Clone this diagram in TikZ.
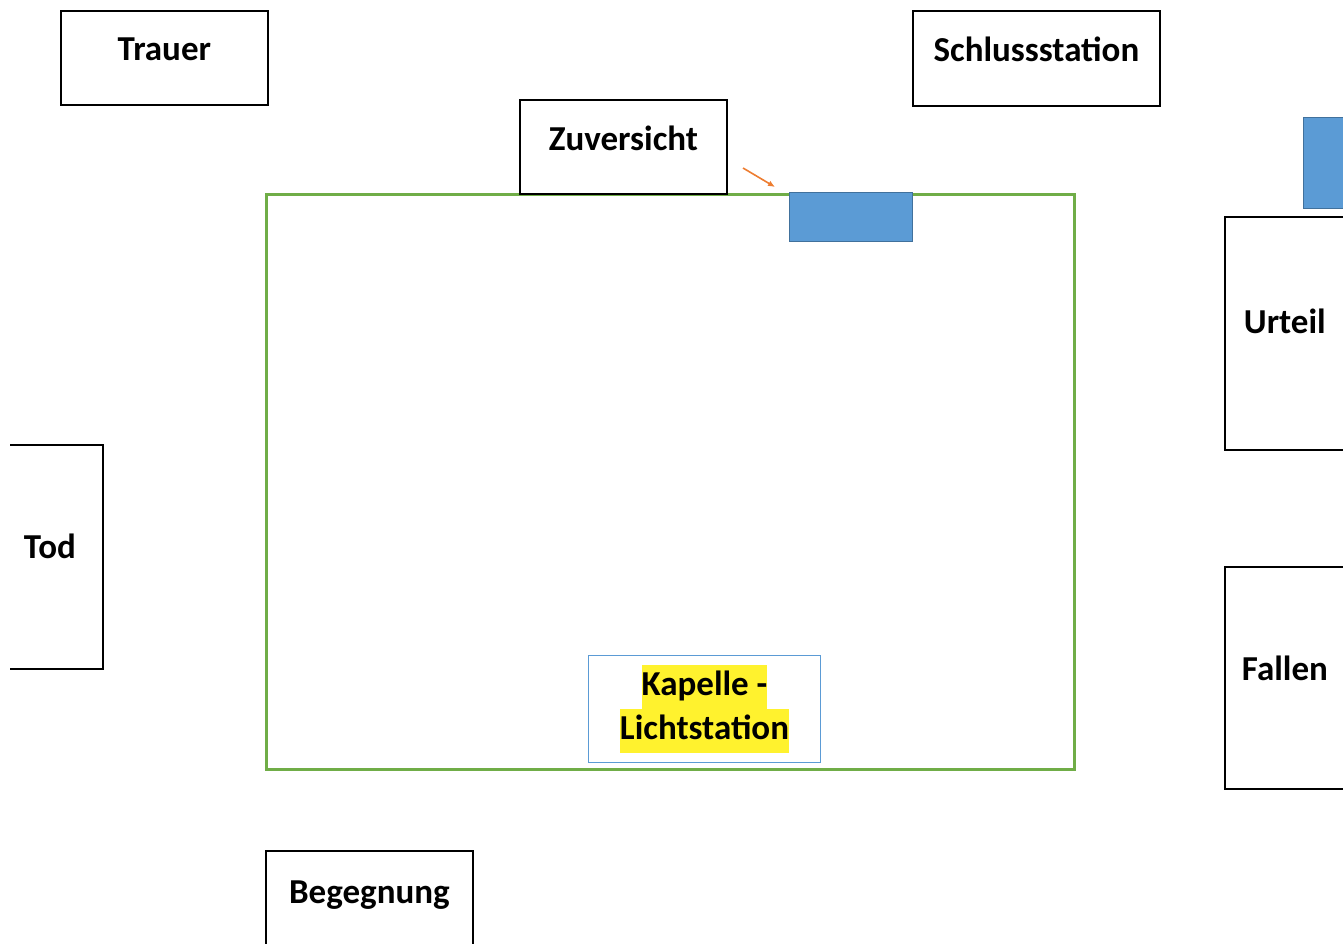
\documentclass[tikz,border=0pt]{standalone}
\usepackage{fontspec}
\setmainfont{Carlito}
\usepackage{xcolor}
\usetikzlibrary{arrows.meta,positioning}
\definecolor{framegreen}{HTML}{70AD47}
\definecolor{tileblue}{HTML}{5B9BD5}
\definecolor{tileedge}{HTML}{41719C}
\definecolor{arrorange}{HTML}{ED7D31}
\definecolor{hlyellow}{HTML}{FFF22E}
\newcommand{\stationfont}{\fontsize{35pt}{44pt}\selectfont\bfseries}
\newcommand{\gelb}[1]{{\setlength{\fboxsep}{0pt}\colorbox{hlyellow}{\strut #1}}}
\tikzset{
  stbox/.style={draw=black, line width=1.8pt, fill=white, inner sep=0pt, anchor=north west, font=\stationfont},
  sttile/.style={draw=tileedge, line width=0.8pt, fill=tileblue, inner sep=0pt, anchor=north west},
  roomframe/.style={draw=framegreen, line width=2.8pt, inner sep=0pt, anchor=north west},
  kapbox/.style={draw=tileblue, line width=1pt, inner sep=0pt, anchor=north west, align=center, font=\stationfont},
  hintarr/.style={-{Latex[length=7pt,width=6pt]}, draw=arrorange, line width=1.6pt}
}

\begin{document}
\begin{tikzpicture}[x=1pt,y=-1pt]
  \useasboundingbox (0,0) rectangle (1343,943);
  \clip (10,0) rectangle (1343,943);
  \node[roomframe, minimum width=808pt, minimum height=575pt] (raum) at (265,193) {};
  \node[stbox, minimum width=207pt, text height=50pt, text depth=44pt] (trauer) at (60,10) {Trauer};
  \node[stbox, minimum width=247pt, text height=51pt, text depth=44pt] (schluss) at (912,10) {Schlussstation};
  \node[stbox, minimum width=207pt, text height=51pt, text depth=43pt] (zuversicht) at (519,99) {Zuversicht};
  \node[stbox, inner xsep=19pt, text width=112pt, align=left, text height=117pt, text depth=116pt] (urteil) at (1224,216) {Urteil};
  \node[stbox, inner xsep=17pt, text width=116pt, align=left, text height=114pt, text depth=108pt] (fallen) at (1224,566) {Fallen};
  \node[stbox, minimum width=106pt, text height=114pt, text depth=110pt] (tod) at (-4,444) {Tod};
  \node[stbox, minimum width=207pt, text height=53pt, text depth=97pt] (begegnung) at (265,850) {Begegnung};
  \node[kapbox, minimum width=232pt, minimum height=107pt] (kapelle) at (588,655) {\gelb{Kapelle -}\\\gelb{Lichtstation}};
  \node[sttile, minimum width=123pt, minimum height=49pt] (tafel) at (789,192) {};
  \node[sttile, minimum width=60pt, minimum height=91pt] (tafelrechts) at (1303,117) {};
  \coordinate (hinweis) at (743,168);
  \coordinate (ziel) at (775,187);
  \draw[hintarr] (hinweis) -- (ziel);
\end{tikzpicture}
\end{document}
